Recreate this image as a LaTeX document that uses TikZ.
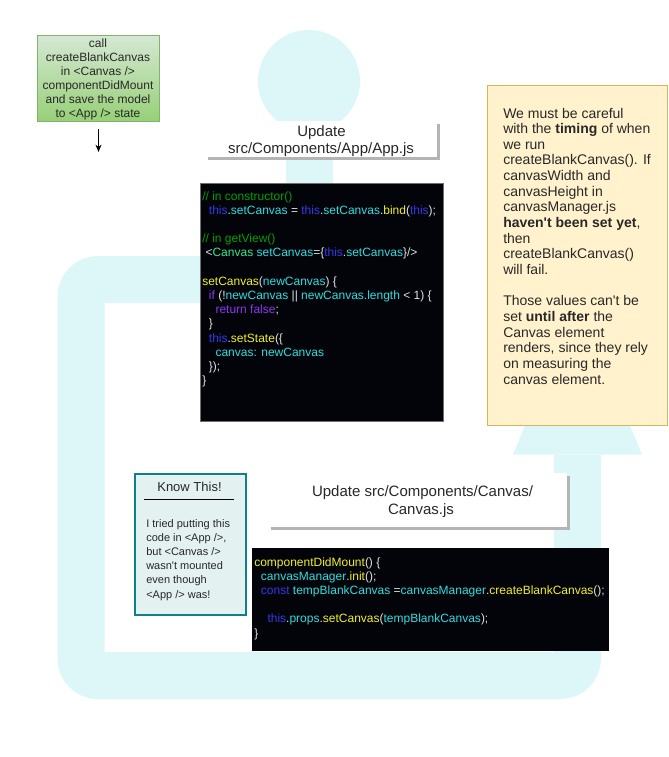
\documentclass[tikz,border=0pt]{standalone}
\usepackage{fontspec}
\setmainfont{Liberation Sans}[Ligatures=TeXOff]
\usetikzlibrary{arrows.meta,fit}
\definecolor{cyanbg}{RGB}{221,247,249}
\definecolor{txt}{RGB}{40,40,40}
\definecolor{codebg}{RGB}{3,4,10}
\definecolor{codeline}{RGB}{110,110,110}
\definecolor{cmt}{RGB}{0,160,0}
\definecolor{kwb}{RGB}{55,55,235}
\definecolor{idc}{RGB}{45,222,222}
\definecolor{fny}{RGB}{240,240,40}
\definecolor{kwp}{RGB}{140,55,240}
\definecolor{tagg}{RGB}{50,235,140}
\definecolor{pun}{RGB}{225,225,225}
\definecolor{yelfill}{RGB}{255,242,204}
\definecolor{yeldraw}{RGB}{214,182,86}
\definecolor{kfill}{RGB}{227,241,241}
\definecolor{kdraw}{RGB}{14,128,136}
\definecolor{gtop}{RGB}{213,232,212}
\definecolor{gbot}{RGB}{151,208,119}
\definecolor{gdraw}{RGB}{130,179,102}
\definecolor{shad}{RGB}{180,180,180}
\newcommand{\clrY}[1]{{\color{fny}\relax#1}}
\newcommand{\clrC}[1]{{\color{idc}\relax#1}}
\newcommand{\clrB}[1]{{\color{kwb}\relax#1}}
\newcommand{\clrG}[1]{{\color{cmt}\relax#1}}
\newcommand{\clrP}[1]{{\color{kwp}\relax#1}}
\newcommand{\clrW}[1]{{\color{pun}\relax#1}}
\newcommand{\clrT}[1]{{\color{tagg}\relax#1}}
\begin{document}
\begin{tikzpicture}[x=0.75pt,y=-0.75pt,
  box/.style={inner sep=0pt, outer sep=0pt},
  codetxt/.style={font=\fontsize{9}{10}\selectfont, anchor=base west, inner sep=0pt},
  lbl/.style={font=\fontsize{11.25}{13}\selectfont, text=txt, anchor=base, inner sep=0pt},
  gtxt/.style={font=\fontsize{9}{10}\selectfont, text=txt, anchor=base, inner sep=0pt},
  ytxt/.style={font=\fontsize{10.5}{12}\selectfont, text=txt, anchor=base west, inner sep=0pt},
  ktxt/.style={font=\fontsize{8.25}{10}\selectfont, text=txt, anchor=base west, inner sep=0pt},
  band/.style={draw=cyanbg, line width=47*0.75pt, rounded corners=17*0.75pt}
]
\useasboundingbox (0,0) rectangle (668,757);

% cyan background shapes
\fill[cyanbg] (309,81) circle[radius=51];
\fill[cyanbg] (286,125) rectangle (333,184);
\path[band] (330,279.5) -- (81,279.5) -- (81,675.5) -- (577.5,675.5) -- (577.5,455);
\fill[cyanbg] (513,454.5) -- (642,454.5) -- (577.5,298) -- cycle;

% green box
\node[box, fit={(37,35) (159,121)}, draw=gdraw, line width=0.75pt, top color=gtop, bottom color=gbot] (green) {};
\node[gtxt] (g1) at (98,47) {call};
\node[gtxt] (g2) at (98,61) {createBlankCanvas};
\node[gtxt] (g3) at (98,75) {in <Canvas />};
\node[gtxt] (g4) at (98,89) {componentDidMount};
\node[gtxt] (g5) at (98,103) {and save the model};
\node[gtxt] (g6) at (98,117) {to <App /> state};
\coordinate (a1) at (98.5,129);
\coordinate (a2) at (98.5,152);
\draw[line width=0.75pt, -{Stealth[length=5.5pt,width=4.5pt]}] (a1) -- (a2);

% label 1
\fill[shad] (208,124) rectangle (440,160);
\node[box, fit={(205,121) (437,157)}, fill=white] (lab1) {};
\node[lbl] (lab1a) at (321.5,136.5) {Update};
\node[lbl] (lab1b) at (321,153.5) {src/Components/App/App.js};

% code box 1
\node[box, fit={(200,183) (443,421)}, fill=codebg, draw=codeline, line width=0.75pt] (code1) {};
\node[codetxt] (c1) at (202,200) {\clrG{// in constructor()}};
\node[codetxt] (c2) at (208.7,214.2) {\clrB{this}\clrW{.}\clrC{setCanvas}\clrW{ = }\clrB{this}\clrW{.}\clrC{setCanvas}\clrW{.}\clrY{bind}\clrW{(}\clrB{this}\clrW{);}};
\node[codetxt] (c4) at (202,242.6) {\clrG{// in getView()}};
\node[codetxt] (c5) at (205.3,256.8) {\clrW{<}\clrT{Canvas}\clrC{ setCanvas}\clrW{=\{}\clrB{this}\clrW{.}\clrC{setCanvas}\clrW{\}/>}};
\node[codetxt] (c7) at (202,285.2) {\clrY{setCanvas}\clrW{(}\clrC{newCanvas}\clrW{) \{}};
\node[codetxt] (c8) at (208.7,299.4) {\clrP{if}\clrW{ (!}\clrC{newCanvas}\clrW{ || }\clrC{newCanvas.length}\clrW{ < 1) \{}};
\node[codetxt] (c9) at (215.3,313.6) {\clrP{return false}\clrW{;}};
\node[codetxt] (c10) at (208.7,327.8) {\clrW{\}}};
\node[codetxt] (c11) at (208.7,342) {\clrB{this}\clrW{.}\clrY{setState}\clrW{(\{}};
\node[codetxt] (c12) at (215.3,356.2) {\clrC{canvas: newCanvas}};
\node[codetxt] (c13) at (208.7,370.4) {\clrW{\});}};
\node[codetxt] (c14) at (202,384.6) {\clrW{\}}};

% yellow note
\node[box, fit={(487,85) (667,425)}, fill=yelfill, draw=yeldraw, line width=0.75pt] (note) {};
\node[ytxt] (y1) at (503,118) {We must be careful};
\node[ytxt] (y2) at (503,133.65) {with the \textbf{timing} of when};
\node[ytxt] (y3) at (503,149.3) {we run};
\node[ytxt] (y4) at (503,164.95) {createBlankCanvas(). If};
\node[ytxt] (y5) at (503,180.6) {canvasWidth and};
\node[ytxt] (y6) at (503,196.25) {canvasHeight in};
\node[ytxt] (y7) at (503,211.9) {canvasManager.js};
\node[ytxt] (y8) at (503,227.55) {\textbf{haven't been set yet},};
\node[ytxt] (y9) at (503,243.2) {then};
\node[ytxt] (y10) at (503,258.85) {createBlankCanvas()};
\node[ytxt] (y11) at (503,274.5) {will fail.};
\node[ytxt] (y13) at (503,305.8) {Those values can't be};
\node[ytxt] (y14) at (503,321.45) {set \textbf{until after} the};
\node[ytxt] (y15) at (503,337.1) {Canvas element};
\node[ytxt] (y16) at (503,352.75) {renders, since they rely};
\node[ytxt] (y17) at (503,368.4) {on measuring the};
\node[ytxt] (y18) at (503,384.05) {canvas element.};

% know this box
\node[box, fit={(135,474) (246,615)}, fill=kfill, draw=kdraw, line width=1.1pt] (know) {};
\node[font=\fontsize{9.75}{11}\selectfont, text=txt, anchor=base, inner sep=0pt] (kt) at (189.5,491.5) {Know This!};
\coordinate (u1) at (144,499);
\coordinate (u2) at (234,499);
\draw[line width=0.75pt] (u1) -- (u2);
\node[ktxt] (k1) at (146,527) {I tried putting this};
\node[ktxt] (k2) at (146,541.2) {code in <App />,};
\node[ktxt] (k3) at (146,555.4) {but <Canvas />};
\node[ktxt] (k4) at (146,569.6) {wasn't mounted};
\node[ktxt] (k5) at (146,583.8) {even though};
\node[ktxt] (k6) at (146,598) {<App /> was!};

% label 2
\fill[shad] (271,476) rectangle (570,530);
\node[box, fit={(268,473) (567,527)}, fill=white] (lab2) {};
\node[lbl] (lab2a) at (422.5,496.5) {Update src/Components/Canvas/};
\node[lbl] (lab2b) at (421,514) {Canvas.js};

% code box 2
\node[box, fit={(252,548) (609,651)}, fill=codebg] (code2) {};
\node[codetxt] (m1) at (254,566) {\clrY{componentDidMount}\clrW{() \{}};
\node[codetxt] (m2) at (260.7,580.2) {\clrC{canvasManager}\clrW{.}\clrY{init}\clrW{();}};
\node[codetxt] (m3) at (260.7,594.4) {\clrB{const}\clrC{ tempBlankCanvas}\clrW{ =}\clrC{canvasManager}\clrW{.}\clrY{createBlankCanvas}\clrW{();}};
\node[codetxt] (m5) at (267.3,622.8) {\clrB{this}\clrW{.}\clrC{props}\clrW{.}\clrY{setCanvas}\clrW{(}\clrC{tempBlankCanvas}\clrW{);}};
\node[codetxt] (m6) at (254,637) {\clrW{\}}};
\end{tikzpicture}
\end{document}
